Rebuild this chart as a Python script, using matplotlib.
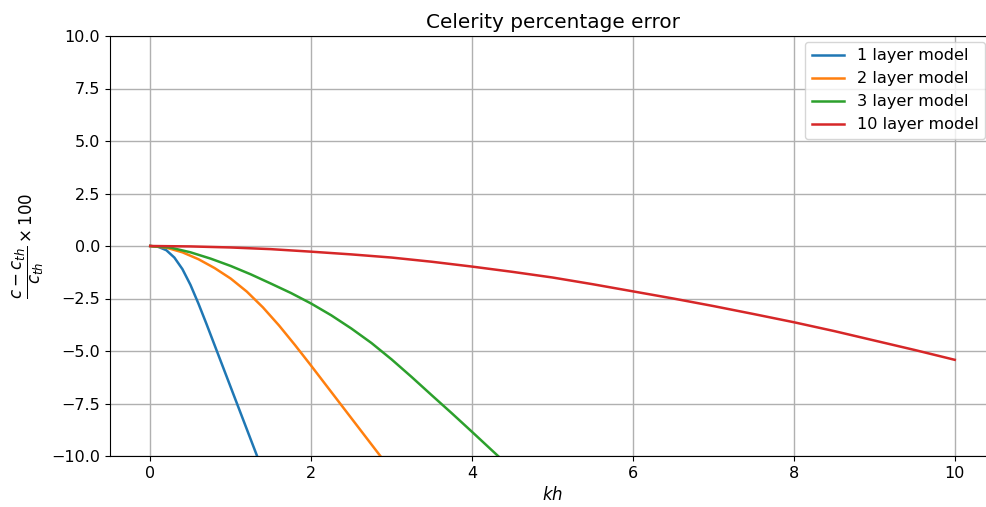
import numpy as np
import matplotlib
matplotlib.use("Agg")
from matplotlib import pyplot as plt

# celerity error (%) against kh for each model
kh_1 = [0, 0.1, 0.2, 0.3, 0.4, 0.5, 0.6, 0.7, 0.8, 0.9, 1.0, 1.1, 1.2, 1.3, 1.4]
err_1 = [0, -0.04, -0.2, -0.55, -1.1, -1.85, -2.75, -3.72, -4.72, -5.72, -6.72, -7.72, -8.72, -9.72, -10.72]

kh_2 = [0, 0.2, 0.4, 0.6, 0.8, 1.0, 1.2, 1.4, 1.6, 1.8, 2.0, 2.2, 2.4, 2.6, 2.8, 3.0]
err_2 = [0, -0.08, -0.3, -0.63, -1.05, -1.55, -2.17, -2.92, -3.78, -4.72, -5.7, -6.7, -7.7, -8.7, -9.7, -10.7]

kh_3 = [0, 0.25, 0.5, 0.75, 1.0, 1.25, 1.5, 1.75, 2.0, 2.25, 2.5, 2.75, 3.0, 3.25, 3.5, 3.75, 4.0, 4.25, 4.5]
err_3 = [0, -0.075, -0.3, -0.6, -0.95, -1.35, -1.79, -2.24, -2.74, -3.3, -3.93, -4.62, -5.4, -6.24, -7.11, -7.97, -8.85, -9.74, -10.63]

kh_10 = [0, 0.5, 1, 1.5, 2, 2.5, 3, 3.5, 4, 4.5, 5, 5.5, 6, 6.5, 7, 7.5, 8, 8.5, 9, 9.5, 10]
err_10 = [0, -0.02, -0.07, -0.15, -0.27, -0.4, -0.55, -0.75, -0.98, -1.23, -1.5, -1.82, -2.16, -2.5, -2.86, -3.24, -3.63, -4.05, -4.5, -4.95, -5.42]

labels = ["1 layer model", "2 layer model", "3 layer model", "10 layer model"]

plt.rcParams["font.size"] = 12

fig = plt.figure(figsize=(9.87, 5.07), dpi=100)
# axes run slightly past the right edge of the figure
ax = fig.add_axes([110 / 987, 51 / 507, 885 / 987, 420 / 507])

for kh, err, lab in zip([kh_1, kh_2, kh_3, kh_10], [err_1, err_2, err_3, err_10], labels):
    ax.plot(kh, err, label=lab, lw=1.8)

ax.set_xlim(-0.5, 10.5)
ax.set_ylim(-10, 10)
ax.set_yticks(np.arange(-10, 10.1, 2.5))
ax.tick_params(labelsize=11.5)
ax.grid(True, color="#b0b0b0", lw=1.0)
ax.set_title("Celerity percentage error")
ax.set_xlabel(r"$kh$")
ax.set_ylabel(r"$\dfrac{c - c_{th}}{c_{th}} \times 100$")
ax.legend(loc="upper right", bbox_to_anchor=(875 / 885, 0.986), borderaxespad=0,
          fontsize=11.6)

fig.savefig("out.png", dpi=100)
